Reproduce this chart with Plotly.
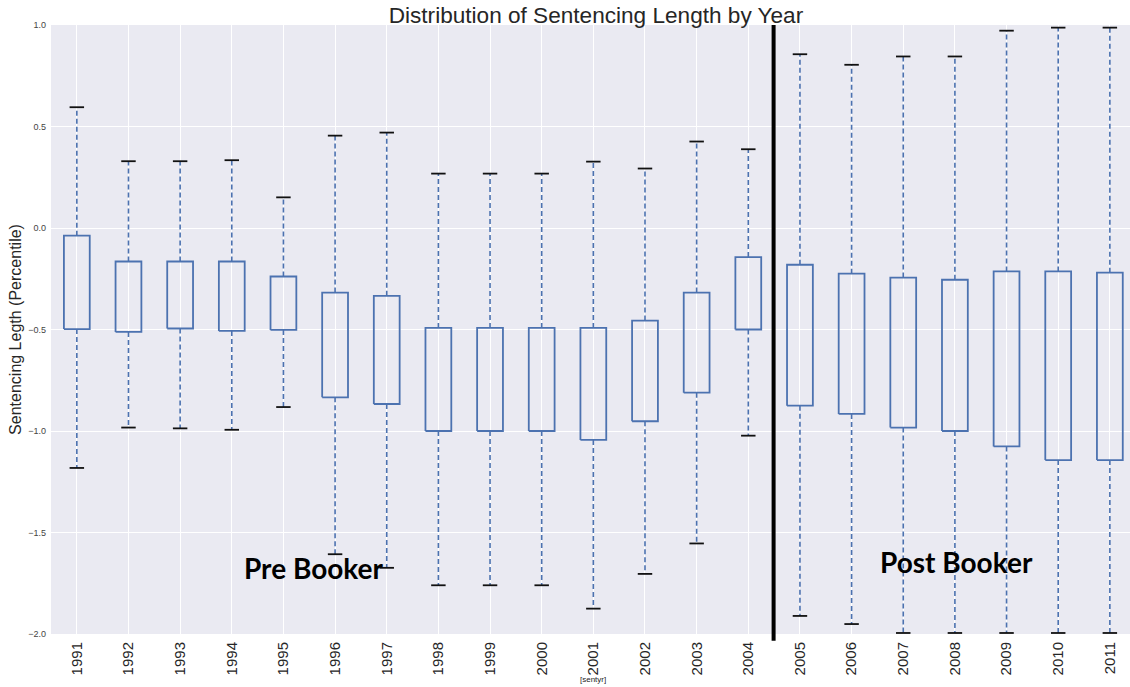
import plotly.graph_objects as go

years = ["1991", "1992", "1993", "1994", "1995", "1996", "1997", "1998", "1999", "2000", "2001",
         "2002", "2003", "2004", "2005", "2006", "2007", "2008", "2009", "2010", "2011"]
whisker_high = [0.595, 0.329, 0.329, 0.334, 0.151, 0.455, 0.470, 0.268, 0.268, 0.268, 0.327,
                0.293, 0.426, 0.388, 0.856, 0.804, 0.845, 0.845, 0.972, 0.987, 0.987]
q3 = [-0.038, -0.165, -0.165, -0.165, -0.239, -0.318, -0.334, -0.492, -0.492, -0.492, -0.492,
      -0.456, -0.318, -0.143, -0.181, -0.225, -0.244, -0.255, -0.214, -0.214, -0.220]
q1 = [-0.498, -0.512, -0.495, -0.507, -0.502, -0.834, -0.867, -1.000, -1.000, -1.000, -1.044,
      -0.952, -0.811, -0.500, -0.875, -0.916, -0.983, -1.000, -1.076, -1.143, -1.143]
whisker_low = [-1.182, -0.983, -0.987, -0.994, -0.882, -1.607, -1.674, -1.760, -1.760, -1.760, -1.875,
               -1.704, -1.554, -1.023, -1.911, -1.951, -1.995, -1.995, -1.995, -1.995, -1.995]

BLUE = "#4C72B0"
positions = list(range(1, len(years) + 1))
half_box = 0.25
half_cap = 0.14

bx, by, wx, wy, cx, cy = [], [], [], [], [], []
for p, hi, a, b, lo in zip(positions, whisker_high, q3, q1, whisker_low):
    bx += [p - half_box, p + half_box, p + half_box, p - half_box, p - half_box, None]
    by += [b, b, a, a, b, None]
    wx += [p, p, None, p, p, None]
    wy += [a, hi, None, b, lo, None]
    cx += [p - half_cap, p + half_cap, None, p - half_cap, p + half_cap, None]
    cy += [hi, hi, None, lo, lo, None]

fig = go.Figure()
fig.add_trace(go.Scatter(x=wx, y=wy, mode="lines", hoverinfo="skip",
                         line=dict(color=BLUE, width=1.6, dash="5px,3px")))
fig.add_trace(go.Scatter(x=bx, y=by, mode="lines", hoverinfo="skip",
                         line=dict(color=BLUE, width=1.8)))
fig.add_trace(go.Scatter(x=cx, y=cy, mode="lines", hoverinfo="skip",
                         line=dict(color="#111111", width=1.8)))

# Booker divider
fig.add_shape(type="line", xref="x", yref="paper", x0=14.49, x1=14.49, y0=-0.011, y1=1.0,
              line=dict(color="black", width=4), layer="above")

fig.add_annotation(x=5.59, y=-1.676, xref="x", yref="y", text="<b>Pre Booker</b>", showarrow=False,
                   font=dict(family="Lato, 'Open Sans', sans-serif", size=28, color="black"))
fig.add_annotation(x=18.03, y=-1.646, xref="x", yref="y", text="<b>Post Booker</b>", showarrow=False,
                   font=dict(family="Lato, 'Open Sans', sans-serif", size=28, color="black"))
fig.add_annotation(x=0.502, y=-0.0755, xref="paper", yref="paper", text="[sentyr]", showarrow=False,
                   yanchor="middle", font=dict(size=8, color="#262626"))

fig.update_layout(
    width=1130, height=687,
    margin=dict(l=51, r=0, t=25, b=53, autoexpand=False),
    paper_bgcolor="white", plot_bgcolor="#EAEAF2",
    showlegend=False,
    font=dict(family="'Liberation Sans', Arial, sans-serif", color="#262626"),
    title=dict(text="Distribution of Sentencing Length by Year", x=0.5274, xanchor="center",
               y=0.9782, yanchor="middle", font=dict(size=22.6, color="#262626")),
    xaxis=dict(range=[0.5, 21.39], tickvals=positions, ticktext=years, tickangle=-90,
               showgrid=True, gridcolor="white", gridwidth=1, zeroline=False, ticks="",
               tickfont=dict(size=15, color="#262626"), showline=False, automargin=False,
               ticklabelstandoff=4),
    yaxis=dict(range=[-2.0, 1.0], tickvals=[-2.0, -1.5, -1.0, -0.5, 0.0, 0.5, 1.0], tickformat=".1f",
               showgrid=True, gridcolor="white", gridwidth=1, zeroline=False, ticks="",
               tickfont=dict(size=9, color="#444444"), showline=False, automargin=False,
               ticklabelstandoff=4,
               title=dict(text="Sentencing Legth (Percentile)", font=dict(size=16, color="#262626"),
                          standoff=2)),
)

fig.write_html("out.html", config={"displayModeBar": False},
               post_script="document.body.style.margin='0';")
